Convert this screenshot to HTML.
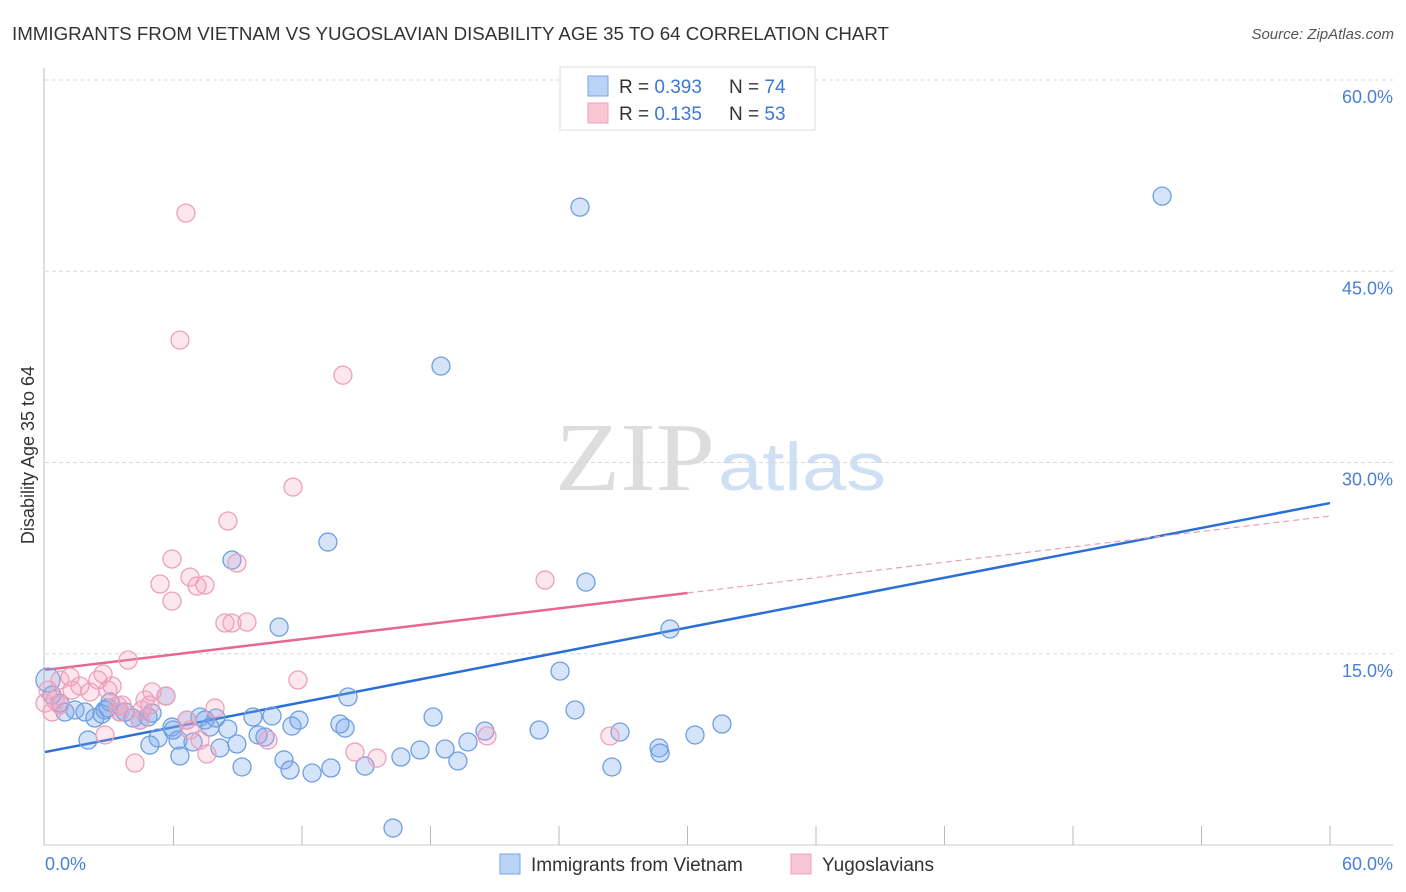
<!DOCTYPE html>
<html><head><meta charset="utf-8"><style>
body{margin:0;background:#fff;font-family:"Liberation Sans",sans-serif;}
#wrap{position:relative;width:1406px;height:892px;overflow:hidden;}
</style></head><body>
<div id="wrap">
<svg id="chart" width="1406" height="892" xmlns="http://www.w3.org/2000/svg">
<text x="12" y="40" font-size="18" fill="#333" textLength="877" lengthAdjust="spacingAndGlyphs">IMMIGRANTS FROM VIETNAM VS YUGOSLAVIAN DISABILITY AGE 35 TO 64 CORRELATION CHART</text>
<text x="1394" y="39" font-size="15" fill="#555" font-style="italic" text-anchor="end">Source: ZipAtlas.com</text>
<g>
<text x="555" y="490" font-size="98" fill="#ddd" textLength="160" lengthAdjust="spacingAndGlyphs" font-family="Liberation Serif,serif">ZIP</text>
<text x="718" y="490" font-size="68" fill="#cfe0f4" textLength="168" lengthAdjust="spacingAndGlyphs">atlas</text>
</g>
<g id="grid"></g>
<g id="axes"></g>
<g id="lines"></g>
<g id="pts"></g>
<text x="34" y="455" font-size="18" fill="#333" text-anchor="middle" transform="rotate(-90 34 455)">Disability Age 35 to 64</text>
<text x="45" y="870" font-size="18" fill="#4a7fd4">0.0%</text>
<text x="1393" y="870" font-size="18" fill="#4a7fd4" text-anchor="end">60.0%</text>
<g>
<rect x="560" y="67" width="255" height="63" fill="#fff" stroke="#ddd"/>
<rect x="588" y="76" width="20" height="20" fill="#b9d3f5" stroke="#7aa6e6"/>
<rect x="588" y="103" width="20" height="20" fill="#f9c6d6" stroke="#eea0bb"/>
<text x="619" y="93" font-size="19" fill="#333">R = <tspan fill="#3b78d8">0.393</tspan></text>
<text x="729" y="93" font-size="19" fill="#333">N = <tspan fill="#3b78d8">74</tspan></text>
<text x="619" y="120" font-size="19" fill="#333">R =  <tspan fill="#3b78d8">0.135</tspan></text>
<text x="729" y="120" font-size="19" fill="#333">N = <tspan fill="#3b78d8">53</tspan></text>
</g>
<g>
<rect x="500" y="854" width="20" height="20" fill="#b9d3f5" stroke="#7aa6e6"/>
<text x="531" y="871" font-size="19" fill="#333">Immigrants from Vietnam</text>
<rect x="791" y="854" width="20" height="20" fill="#f9c6d6" stroke="#eea0bb"/>
<text x="822" y="871" font-size="19" fill="#333">Yugoslavians</text>
</g>
</svg>
</div>
<script>
const yTicks=[15,30,45,60];
const yTickLabels=["15.0%","30.0%","45.0%","60.0%"];
const xTicks=[6,12,18,24,30,36,42,48,54,60];
const blueX=[0.14,0.33,0.70,0.93,1.40,1.87,2.33,2.66,3.04,2.80,3.50,3.74,4.11,4.44,4.81,5.00,5.28,5.65,5.93,6.21,6.30,6.63,6.91,7.24,7.47,7.70,7.98,8.17,8.54,8.96,9.20,9.71,9.95,10.27,10.60,10.93,11.16,11.44,11.53,11.86,12.47,13.21,13.35,13.77,14.01,14.15,14.94,16.25,16.62,17.51,18.12,18.49,18.68,19.28,19.75,20.54,23.07,24.05,24.75,24.98,25.26,26.47,26.85,28.67,28.72,29.18,30.35,31.61,52.16,8.73,2.01,2.94,4.90,5.98];
const blueY=[12.94,11.76,11.13,10.43,10.59,10.43,9.96,10.27,11.21,10.59,10.43,10.43,9.96,9.80,10.04,10.35,8.39,11.68,9.25,8.23,6.98,9.80,8.08,10.04,9.80,9.25,9.96,7.61,9.10,7.92,6.12,10.04,8.63,8.47,10.12,17.09,6.67,5.88,9.33,9.80,5.65,23.76,6.04,9.49,9.17,11.61,6.19,1.33,6.90,7.45,10.04,37.56,7.53,6.59,8.08,8.94,9.02,13.64,10.59,50.03,20.62,6.12,8.86,7.61,7.21,16.94,8.63,9.49,50.89,22.35,8.23,10.74,7.84,9.02];
const pinkX=[0.14,0.47,0.70,1.17,1.26,1.63,2.10,2.47,2.71,2.94,3.13,3.41,3.60,3.88,4.20,4.67,5.00,5.37,5.65,5.93,5.93,6.30,6.58,6.63,6.77,7.10,7.47,7.56,7.94,8.40,8.54,8.73,8.96,9.43,10.41,11.58,11.81,13.91,14.47,15.50,20.64,23.35,26.38,2.80,4.53,7.24,0.70,0.00,3.50,4.90,4.44,6.77,0.33];
const pinkY=[12.15,11.37,12.94,13.17,12.15,12.47,12.00,12.94,13.41,12.15,12.47,10.90,10.98,14.51,6.43,11.37,12.00,20.47,11.68,22.43,19.13,39.60,49.56,9.80,21.01,20.31,20.39,7.14,10.74,17.41,25.41,17.41,22.11,17.49,8.23,28.07,12.94,36.85,7.29,6.82,8.55,20.78,8.55,8.63,10.59,8.23,10.98,11.13,10.43,10.98,9.80,9.02,10.43];
const blueTrend=[7.29,26.82];
const pinkTrend=[13.73,25.80];
const pinkSolidEnd=30;

const X=v=>45+v*(1285/60);
const Y=v=>845-v*(765/60);
const NS="http://www.w3.org/2000/svg";
function mk(tag,attrs,parent){const e=document.createElementNS(NS,tag);for(const k in attrs)e.setAttribute(k,attrs[k]);parent.appendChild(e);return e;}
const grid=document.getElementById('grid'),axes=document.getElementById('axes'),lines=document.getElementById('lines'),pts=document.getElementById('pts');
yTicks.forEach((t,i)=>{
 const l=mk('line',{x1:45,x2:1393,y1:Y(t),y2:Y(t),stroke:'#d8d8d8','stroke-dasharray':'4,3'},grid);
 
 
 const tx=mk('text',{x:1393,y:Y(t)+23,'font-size':18,fill:'#4a7fd4','text-anchor':'end'},grid);
 tx.textContent=yTickLabels[i];
 
 
});
const ax=mk('line',{x1:44,x2:44,y1:68,y2:845,stroke:'#bbb'},axes);


const bx=mk('line',{x1:44,x2:1393,y1:845,y2:845,stroke:'#ccc'},axes);


xTicks.forEach(t=>{
 const l=mk('line',{x1:X(t),x2:X(t),y1:826,y2:845,stroke:'#bbb'},axes);
 
 
});
blueX.forEach((v,i)=>{
 const c=mk('circle',{cx:X(v),cy:Y(blueY[i]),r:i===0?12:9,fill:'rgba(120,165,235,0.3)',stroke:'#6f9fe0','stroke-width':1.3},pts);
 
 
});
pinkX.forEach((v,i)=>{
 const c=mk('circle',{cx:X(v),cy:Y(pinkY[i]),r:9,fill:'rgba(245,160,190,0.25)',stroke:'#eca0ba','stroke-width':1.3},pts);
 
 
});
const pAt=x=>pinkTrend[0]+(pinkTrend[1]-pinkTrend[0])*x/60;
const b=mk('line',{x1:X(0),y1:Y(blueTrend[0]),x2:X(60),y2:Y(blueTrend[1]),stroke:'#2a6fd6','stroke-width':2.5},lines);


const p=mk('line',{x1:X(0),y1:Y(pAt(0)),x2:X(pinkSolidEnd),y2:Y(pAt(pinkSolidEnd)),stroke:'#e8668f','stroke-width':2.5},lines);


const pd=mk('line',{x1:X(pinkSolidEnd),y1:Y(pAt(pinkSolidEnd)),x2:X(60),y2:Y(pAt(60)),stroke:'#e8a0b8','stroke-width':1.2,'stroke-dasharray':'6,4'},lines);


</script>
</body></html>
